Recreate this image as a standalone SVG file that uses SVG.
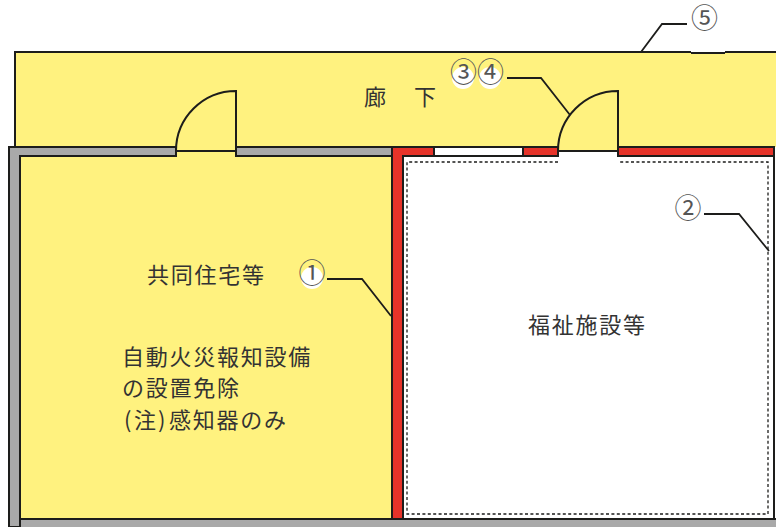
<svg xmlns="http://www.w3.org/2000/svg" width="776" height="527" viewBox="0 0 776 527">
<style>
.ln{fill:none;stroke:#1d1d1b;stroke-width:2}
.ld{fill:none;stroke:#1d1d1b;stroke-width:1.8}
.wg{fill:#a9a9a9;stroke:#1d1d1b;stroke-width:2}
.wr{fill:#e63329;stroke:#1d1d1b;stroke-width:2}
.y{fill:#fff27f}
.t{font-family:"Noto Sans CJK JP","Noto Sans CJK SC",sans-serif;font-size:22px;letter-spacing:1.75px;fill:#333}
.n{font-family:"Noto Sans CJK JP",sans-serif;font-size:27px;fill:#555;text-anchor:middle}
.b{fill:#fff}
</style>
<g id="corridor">
<path class="y" d="M15 52H776V147H15Z"/>
<path class="ln" d="M15 147V52H691M725 52H776"/>
<path class="ln" d="M691 53H725"/>
<text class="t" x="364" y="105">廊</text>
<text class="t" x="414" y="105">下</text>
</g>
<g id="dwelling">
<rect class="y" x="20" y="150" width="371" height="369"/>
<rect x="9" y="519" width="767" height="8" fill="#a9a9a9"/>
<path class="ln" d="M20 519H776"/>
<path class="wg" d="M176 156H20V527H9V147H176Z"/>
<path class="wg" d="M236 147H392V156H236Z"/>
<text class="t" x="147" y="283">共同住宅等</text>
<text class="t" x="122" y="365">自動火災報知設備</text>
<text class="t" x="122" y="396">の設置免除</text>
<text class="t" y="428"><tspan x="124">(</tspan><tspan x="134">注</tspan><tspan x="158">)</tspan><tspan x="169">感知器のみ</tspan></text>
</g>
<g id="welfare">
<path class="wr" d="M392 147H434V156H403V519H392Z"/>
<rect x="434" y="147" width="89" height="9" fill="#fff" stroke="#1d1d1b" stroke-width="2"/>
<rect class="wr" x="523" y="147" width="35" height="9"/>
<rect class="wr" x="618" y="147" width="156" height="9"/>
<path class="ln" d="M774 147V519"/>
<path d="M558 162H407V514H768V162H618" fill="none" stroke="#1d1d1b" stroke-width="1.3" stroke-dasharray="3 2.4"/>
<text class="t" x="528" y="333">福祉施設等</text>
</g>
<g id="door-left">
<path class="y" d="M176 151A60 60 0 0 1 236 91V151Z"/>
<path class="ln" d="M176 151A60 60 0 0 1 236 91V151H176Z"/>
</g>
<g id="door-right">
<path class="y" d="M558 151A60 60 0 0 1 618 91V151Z"/>
<path class="ln" d="M558 151A60 60 0 0 1 618 91V151H558Z"/>
</g>
<g id="callouts">
<circle class="b" cx="312" cy="278" r="11"/>
<circle class="b" cx="463" cy="78" r="11"/>
<circle class="b" cx="490" cy="78" r="11"/>
<text class="n" x="312" y="282.5">①</text>
<text class="n" x="688" y="218">②</text>
<text class="n" x="463.5" y="82">③</text>
<text class="n" x="490.5" y="82">④</text>
<text class="n" x="704.5" y="28">⑤</text>
</g>
<g id="connectors">
<path class="ld" d="M327 279H362L391 316"/>
<path class="ld" d="M704 214H739L769 251"/>
<path class="ld" d="M507 78H541L570 115"/>
<path class="ld" d="M687 24H662L641 52"/>
</g>
</svg>
